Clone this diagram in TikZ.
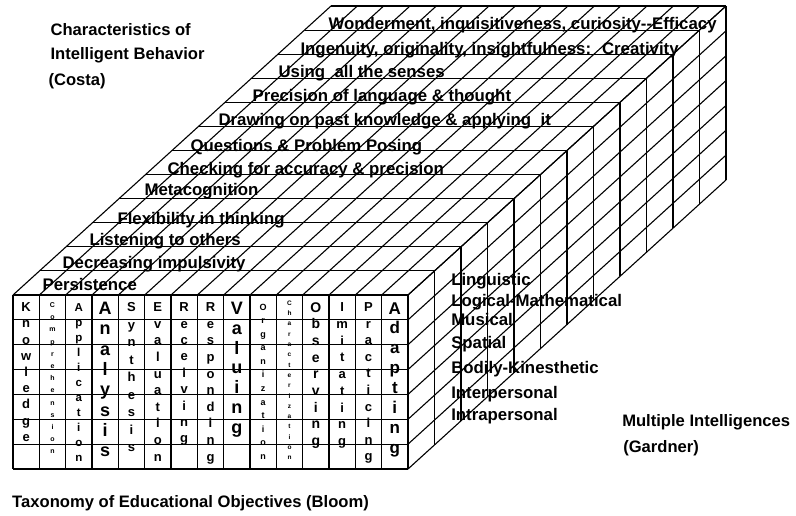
\documentclass[tikz,border=0pt]{standalone}
\usepackage{fontspec}
\setmainfont{Liberation Sans}
\begin{document}
\begin{tikzpicture}[x=1pt, y=-1pt, line width=1.1pt,
	costa/.style={anchor=base west, inner sep=0pt, font=\bfseries\fontsize{16.8}{18}\selectfont},
	gardner/.style={costa},
	heading/.style={anchor=base west, inner sep=0pt, font=\bfseries\fontsize{16.6}{18}\selectfont},
	bloomletter/.style={anchor=base, inner sep=0pt}]
	\path[use as bounding box, fill=white] (0,0) rectangle (796,515);

	% front face
	\foreach \i in {0,...,15} \draw (13+\i*26.333,295) -- ++(0,174);
	\foreach \j in {0,...,7} \draw (13,295+\j*24.857) -- ++(395,0);

	% top face
	\foreach \i in {0,...,15} \draw (13+\i*26.333,295) -- ++(318,-289);
	\foreach \k in {0,...,12} \draw (13+\k*26.5,295-\k*24.083) -- ++(395,0);

	% right face
	\foreach \k in {0,...,12} \draw (408+\k*26.5,295-\k*24.083) -- ++(0,174);
	\foreach \j in {0,...,7} \draw (408,295+\j*24.857) -- ++(318,-289);

	% Bloom, one word per column
	\foreach \c/\fs/\bz/\gap/\word in {
		1/13/311.7/16.2/{K,n,o,w,l,e,d,g,e},
		2/7/307.5/12.2/{C,o,m,p,r,e,h,e,n,s,i,o,n},
		3/11.5/311/15/{A,p,p,l,i,c,a,t,i,o,n},
		4/18/314.5/20.3/{A,n,a,l,y,s,i,s},
		5/13/311.7/17.5/{S,y,n,t,h,e,s,i,s},
		6/13/311.7/16.6/{E,v,a,l,u,a,t,i,o,n},
		7/13/311.7/16.4/{R,e,c,e,i,v,i,n,g},
		8/13/311.7/16.6/{R,e,s,p,o,n,d,i,n,g},
		9/18/314.5/19.75/{V,a,l,u,i,n,g},
		10/9/310.2/13.55/{O,r,g,a,n,i,z,a,t,i,o,n},
		11/6.5/305.3/10.3/{C,h,a,r,a,c,t,e,r,i,z,a,t,i,o,n},
		12/14/312/16.7/{O,b,s,e,r,v,i,n,g},
		13/13/311.7/16.75/{I,m,i,t,a,t,i,n,g},
		14/13/311.7/16.55/{P,r,a,c,t,i,c,i,n,g},
		15/17/314/19.9/{A,d,a,p,t,i,n,g}}
	{
		\foreach \l [count=\i from 0] in \word
			\node[bloomletter, font=\bfseries\fontsize{\fs}{\fs}\selectfont] (w\c-\i) at ({13+(\c-0.5)*26.333},{\bz+\i*\gap}) {\l};
	}

	% Costa, one strip per layer
	\node[costa] (persist) at (42,290.5) {Persistence};
	\node[costa] (impuls) at (62,268.3) {Decreasing impulsivity};
	\node[costa] (listen) at (89,245) {Listening to others};
	\node[costa] (flex) at (117,224) {Flexibility in thinking};
	\node[costa] (meta) at (144,195.7) {Metacognition};
	\node[costa] (check) at (167,174) {Checking for accuracy \& precision};
	\node[costa] (posing) at (190,151) {Questions \& Problem Posing};
	\node[costa] (past) at (218,125) {Drawing on past knowledge \& applying~ it};
	\node[costa] (lang) at (252,101.7) {Precision of language \& thought};
	\node[costa] (senses) at (278,77.3) {Using~ all the senses};
	\node[costa] (creat) at (300,54.3) {Ingenuity, originality, insightfulness:~ Creativity};
	\node[costa] (wonder) at (328,29) {Wonderment, inquisitiveness, curiosity-{}-Efficacy};

	% Gardner
	\node[gardner] (ling) at (450.7,285) {Linguistic};
	\node[gardner] (logic) at (450.7,306) {Logical-Mathematical};
	\node[gardner] (music) at (450.7,325) {Musical};
	\node[gardner] (spat) at (450.7,348.3) {Spatial};
	\node[gardner] (body) at (450.7,373.3) {Bodily-Kinesthetic};
	\node[gardner] (inter) at (450.7,398.3) {Interpersonal};
	\node[gardner] (intra) at (450.7,420) {Intrapersonal};

	% the three headings
	\node[heading] (costa1) at (50,35) {Characteristics of};
	\node[heading] (costa2) at (50,59.5) {Intelligent Behavior};
	\node[heading] (costa3) at (48,85.5) {(Costa)};
	\node[heading] (mi1) at (621.7,426.7) {Multiple Intelligences};
	\node[heading] (mi2) at (622.7,452.3) {(Gardner)};
	\node[heading] (bloom) at (11.7,507.7) {Taxonomy of Educational Objectives (Bloom)};

\end{tikzpicture}
\end{document}
